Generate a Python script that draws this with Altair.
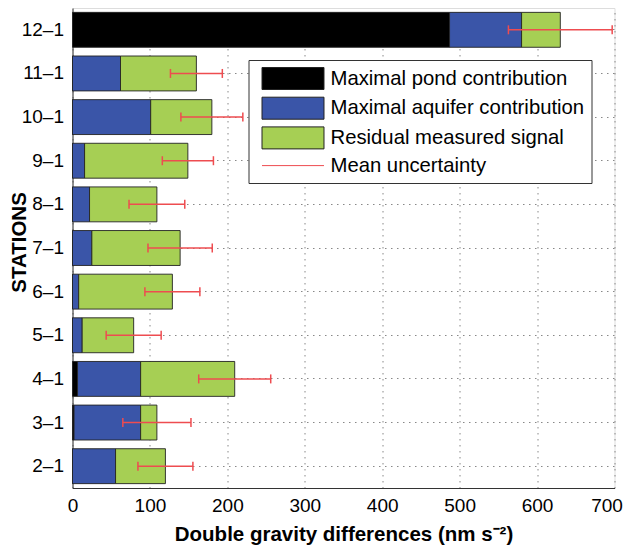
import altair as alt
import pandas as pd

stations = ["12–1", "11–1", "10–1", "9–1", "8–1", "7–1", "6–1", "5–1", "4–1", "3–1", "2–1"]
pond = [487, 0, 0, 0, 0, 0, 0, 0, 6.5, 2, 0]
aquifer = [93, 62, 101, 15.6, 22, 25, 8, 12.5, 81.5, 86, 55.6]
residual = [50, 98, 79, 133.4, 87, 114, 121, 66.5, 121.5, 21, 64.4]
uncertainty = [67, 33.5, 40, 33, 36, 41.5, 35.5, 35.5, 46.5, 44, 35.5]

components = ["Maximal pond contribution", "Maximal aquifer contribution",
              "Residual measured signal", "Mean uncertainty"]
fill_colors = ["#000000", "#3a55a8", "#a6cf54", "#ee4c50"]
stroke_colors = ["#222222", "#222222", "#222222", "#ee4c50"]
shapes = ["M-2.818,-1H2.818V1H-2.818Z", "M-2.818,-1H2.818V1H-2.818Z",
          "M-2.818,-1H2.818V1H-2.818Z", "M-2.818,0H2.818"]

FONT = "Liberation Sans"
RED = "#ee4c50"

rows = []
for i, s in enumerate(stations):
    for k, vals in enumerate([pond, aquifer, residual]):
        rows.append({"station": s, "component": components[k], "value": vals[i], "idx": k})
bars_df = pd.DataFrame(rows)

err_df = pd.DataFrame({
    "station": stations,
    "total": [p + a + r for p, a, r in zip(pond, aquifer, residual)],
    "u": uncertainty,
})

legend_df = pd.DataFrame({"component": components, "v": [None] * 4})

fill_scale = alt.Scale(domain=components, range=fill_colors)
stroke_scale = alt.Scale(domain=components, range=stroke_colors)
shape_scale = alt.Scale(domain=components, range=shapes)
x_scale = alt.Scale(domain=[0, 700], nice=False)

y_enc = alt.Y(
    "station:N", sort=stations,
    scale=alt.Scale(paddingInner=0.2, paddingOuter=0.1),
    axis=alt.Axis(title="STATIONS", titleFont=FONT, titleFontSize=20.5, titleFontWeight="bold",
                  titleColor="#000", titleX=-47.5, titleY=234, titleBaseline="alphabetic",
                  labelFont=FONT, labelFontSize=19, labelColor="#000", labelPadding=9,
                  ticks=False, domainColor="#333", grid=True, gridDash=[1.5, 4.5],
                  gridColor="#888", gridWidth=1),
)

x_axis = alt.Axis(title="Double gravity differences (nm s⁻²)", titleFont=FONT, titleFontSize=20.5,
                  titleFontWeight="bold", titleColor="#000", titleY=52, titleBaseline="alphabetic",
                  labelFont=FONT, labelFontSize=19, labelColor="#000", labelPadding=8,
                  values=[0, 100, 200, 300, 400, 500, 600, 700], labelFlush=False,
                  labelOffset={"condition": {"test": "datum.value == 700", "value": -8}, "value": 0},
                  ticks=False, domainColor="#333", grid=True, gridDash=[1.5, 4.5],
                  gridColor="#888", gridWidth=1)

legend = alt.Legend(title=None, orient="none", legendX=176, legendY=52,
                    symbolSize=484, symbolStrokeWidth=1, symbolOpacity=1,
                    labelFont=FONT, labelFontSize=20.3, labelColor="#000", labelOffset=26,
                    labelLimit=500, rowPadding=2.7, padding=7, symbolOffset=26,
                    fillColor="white", strokeColor="#333", cornerRadius=0)

bars = alt.Chart(bars_df).mark_bar(strokeWidth=0.9).encode(
    y=y_enc,
    x=alt.X("value:Q", stack="zero", scale=x_scale, axis=x_axis),
    fill=alt.Fill("component:N", scale=fill_scale, legend=legend),
    stroke=alt.Stroke("component:N", scale=stroke_scale, legend=legend),
    order=alt.Order("idx:Q"),
)

base_err = alt.Chart(err_df).transform_calculate(
    lo="datum.total - datum.u", hi="datum.total + datum.u"
)

rule = base_err.mark_rule(color=RED, strokeWidth=1.5).encode(
    y=alt.Y("station:N", sort=stations),
    x=alt.X("lo:Q", scale=x_scale),
    x2="hi:Q",
)

caps = base_err.transform_fold(["lo", "hi"], as_=["end", "pos"]).mark_tick(
    color=RED, size=9, thickness=1.5, opacity=1
).encode(
    y=alt.Y("station:N", sort=stations),
    x=alt.X("pos:Q", scale=x_scale),
)

legend_layer = alt.Chart(legend_df).mark_point(filled=True, opacity=1).encode(
    x=alt.X("v:Q", scale=x_scale),
    fill=alt.Fill("component:N", scale=fill_scale, legend=legend),
    stroke=alt.Stroke("component:N", scale=stroke_scale, legend=legend),
    shape=alt.Shape("component:N", scale=shape_scale, legend=legend),
)

chart = alt.layer(bars, rule, caps, legend_layer).properties(
    width=542, height=480,
    autosize=alt.AutoSizeParams(type="none"),
    padding={"left": 64.5, "top": 0, "right": 9, "bottom": 57},
).configure_view(stroke="#333", strokeWidth=1).configure(background="white")

chart.save("out.html", embed_options={"renderer": "svg", "actions": False})
